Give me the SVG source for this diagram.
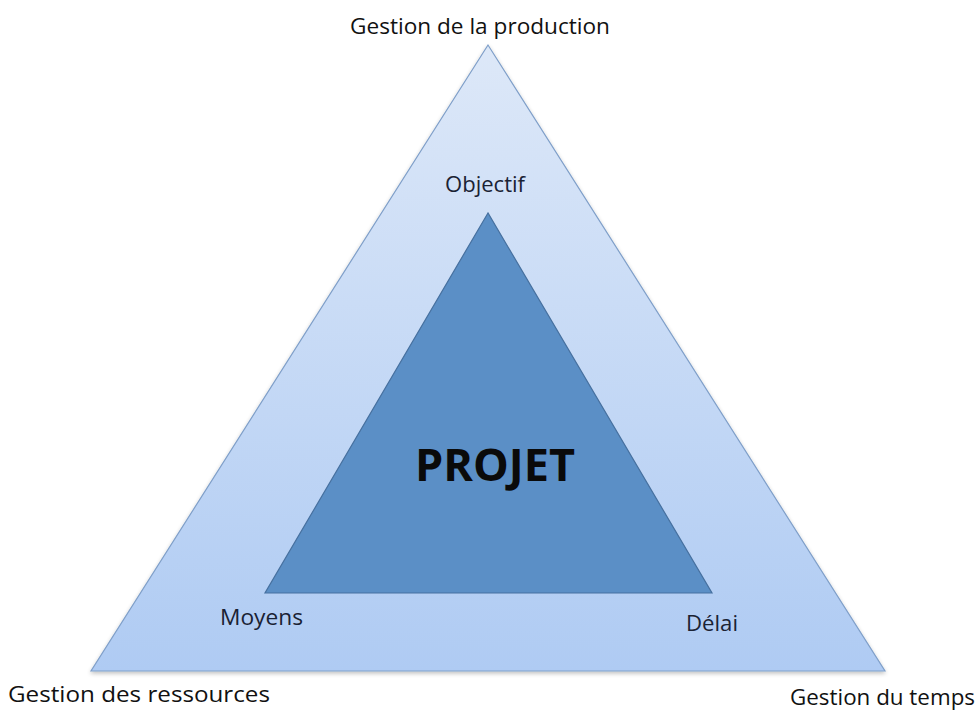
<svg xmlns="http://www.w3.org/2000/svg" width="980" height="711" viewBox="0 0 980 711">
<defs>
<linearGradient id="og" x1="0" y1="0" x2="0" y2="1">
<stop offset="0" stop-color="#dde8f8"/>
<stop offset="1" stop-color="#afcbf3"/>
</linearGradient>
<filter id="sh" x="-10%" y="-10%" width="120%" height="120%">
<feGaussianBlur in="SourceAlpha" stdDeviation="2"/>
<feOffset dx="0" dy="2"/>
<feComponentTransfer><feFuncA type="linear" slope="0.25"/></feComponentTransfer>
<feMerge><feMergeNode/><feMergeNode in="SourceGraphic"/></feMerge>
</filter>
</defs>
<style>
.lbl{font-family:"Open Sans","Liberation Sans",sans-serif;font-size:21px;fill:#111;}
.lbl2{font-family:"Open Sans","Liberation Sans",sans-serif;font-size:21px;fill:#1a2233;}
.big{font-family:"Open Sans","Liberation Sans",sans-serif;font-size:45px;font-weight:bold;fill:#0a0a0a;}
</style>
<rect width="980" height="711" fill="#ffffff"/>
<g id="outer">
<polygon points="488,45 91,671 885,671" fill="url(#og)" stroke="#7f9fc9" stroke-width="1.2" filter="url(#sh)"/>
</g>
<g id="inner">
<polygon points="488,213 265,593 712,593" fill="#5b8fc6" stroke="#46709f" stroke-width="1.2"/>
<text class="big" x="495" y="481" text-anchor="middle" textLength="160" lengthAdjust="spacingAndGlyphs">PROJET</text>
</g>
<g id="labels">
<text class="lbl" x="350" y="34" textLength="260" lengthAdjust="spacingAndGlyphs">Gestion de la production</text>
<text class="lbl2" x="445" y="192" textLength="80" lengthAdjust="spacingAndGlyphs">Objectif</text>
<text class="lbl2" x="220" y="625" textLength="83" lengthAdjust="spacingAndGlyphs">Moyens</text>
<text class="lbl2" x="686" y="631" textLength="52" lengthAdjust="spacingAndGlyphs">Délai</text>
<text class="lbl" x="8" y="702" textLength="262" lengthAdjust="spacingAndGlyphs">Gestion des ressources</text>
<text class="lbl" x="790" y="705" textLength="185" lengthAdjust="spacingAndGlyphs">Gestion du temps</text>
</g>
</svg>
